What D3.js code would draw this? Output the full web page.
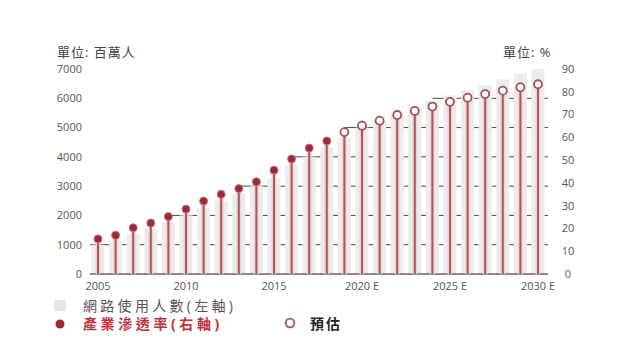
<!DOCTYPE html>
<html><head><meta charset="utf-8">
<script src="https://cdn.jsdelivr.net/npm/d3@7"></script>
<style>
html,body{margin:0;padding:0;background:#fff;}
svg{display:block;font-family:"Open Sans","Noto Sans CJK TC",sans-serif;}
</style></head>
<body><svg id="c" width="640" height="360"></svg>
<script>
const years = ["2005","2006","2007","2008","2009","2010","2011","2012","2013","2014","2015","2016","2017","2018","2019","2020","2021","2022","2023","2024","2025","2026","2027","2028","2029","2030"];
const users = [1000,1150,1350,1550,1750,2000,2250,2500,2750,3000,3250,3700,4000,4300,4650,5000,5250,5500,5700,5900,6100,6280,6450,6650,6850,7000];
const penetration = [15.4,17,20.3,22.4,25.2,28.5,32,35,37.5,40.5,45.6,50.5,55.3,58.4,62.3,65.1,67.3,69.8,71.6,73.5,75.6,77.4,79,80.5,82,83.3];
const estimateFrom = "2019";
const xTickLabels = {"2005":"2005","2010":"2010","2015":"2015","2020":"2020 E","2025":"2025 E","2030":"2030 E"};
const leftTicks = [0,1000,2000,3000,4000,5000,6000,7000];
const rightTicks = [0,10,20,30,40,50,60,70,80,90];

const svg = d3.select("#c");
const x = d3.scalePoint().domain(years).range([98,538]);
const yL = d3.scaleLinear().domain([0,7000]).range([274,69]);
const yR = d3.scaleLinear().domain([0,90]).range([274,69]);
const barW = 13;

// gridlines (behind opaque bars)
const grid = svg.append("g");
leftTicks.filter(t=>t>0 && t<7000).forEach(t=>{
  const k = users.findIndex(v=>v>=t);
  if(k<0) return;
  const xs = k===0 ? 90 : x(years[k-1]);
  grid.append("line").attr("x1",xs).attr("x2",548)
    .attr("y1",yL(t)).attr("y2",yL(t))
    .attr("stroke","#4a4a4a").attr("stroke-width",1);
});

// bars
svg.append("g").selectAll("rect").data(years).join("rect")
  .attr("x",d=>x(d)-barW/2).attr("width",barW)
  .attr("y",(d,i)=>yL(users[i])).attr("height",(d,i)=>yL(0)-yL(users[i]))
  .attr("fill","#ececec");

// baseline
svg.append("line").attr("x1",90).attr("x2",548).attr("y1",yL(0)).attr("y2",yL(0))
  .attr("stroke","#666").attr("stroke-width",1.5);

// stems
const st = svg.append("g");
st.selectAll("line.h").data(years).join("line").attr("class","h")
  .attr("x1",d=>x(d)).attr("x2",d=>x(d))
  .attr("y1",yR(0)).attr("y2",(d,i)=>yR(penetration[i]))
  .attr("stroke","#f2d3d6").attr("stroke-width",5);
st.selectAll("line.s").data(years).join("line").attr("class","s")
  .attr("x1",d=>x(d)).attr("x2",d=>x(d))
  .attr("y1",yR(0)).attr("y2",(d,i)=>yR(penetration[i]))
  .attr("stroke","#a5585f").attr("stroke-width",2);

// circles
svg.append("g").selectAll("circle").data(years).join("circle")
  .attr("cx",d=>x(d)).attr("cy",(d,i)=>yR(penetration[i])).attr("r",4)
  .attr("fill",d=>d>=estimateFrom?"#fff":"#9b2b36")
  .attr("stroke",d=>d>=estimateFrom?"#a5505a":"#c9767e")
  .attr("stroke-width",d=>d>=estimateFrom?1.8:1);

// left axis labels
svg.append("g").selectAll("text").data(leftTicks).join("text")
  .attr("x",82).attr("y",d=>yL(d)).attr("dy","0.35em").attr("text-anchor","end")
  .attr("font-size",11).attr("fill","#555").text(d=>d);
// right axis labels
svg.append("g").selectAll("text").data(rightTicks).join("text")
  .attr("x",568).attr("y",d=>yR(d)).attr("dy","0.35em").attr("text-anchor","middle")
  .attr("font-size",11).attr("fill","#555").text(d=>d);
// x labels
svg.append("g").selectAll("text").data(Object.keys(xTickLabels)).join("text")
  .attr("x",d=>x(d)).attr("y",290).attr("text-anchor","middle")
  .attr("font-size",11).attr("fill","#555").text(d=>xTickLabels[d]);

// unit titles
svg.append("text").attr("x",57).attr("y",57).attr("font-size",13).attr("fill","#444")
  .attr("letter-spacing",1).text("單位: 百萬人");
svg.append("text").attr("x",503).attr("y",57).attr("font-size",13).attr("fill","#444")
  .attr("letter-spacing",1).text("單位: %");

// legend
svg.append("rect").attr("x",54).attr("y",300).attr("width",12).attr("height",11).attr("fill","#e6e6e6");
svg.append("text").attr("x",83).attr("y",306).attr("dy","0.35em").attr("font-size",14)
  .attr("letter-spacing",3.3).attr("fill","#555").text("網路使用人數(左軸)");
svg.append("circle").attr("cx",60).attr("cy",324).attr("r",4.5).attr("fill","#9b2b36");
svg.append("text").attr("x",83).attr("y",324).attr("dy","0.35em").attr("font-size",14)
  .attr("letter-spacing",3.6).attr("font-weight","bold").attr("fill","#c0303a").text("產業滲透率(右軸)");
svg.append("circle").attr("cx",290).attr("cy",323).attr("r",4.3).attr("fill","#fff")
  .attr("stroke","#a5505a").attr("stroke-width",1.8);
svg.append("text").attr("x",310).attr("y",324).attr("dy","0.35em").attr("font-size",14)
  .attr("letter-spacing",2).attr("font-weight","bold").attr("fill","#222").text("預估");
</script></body></html>
